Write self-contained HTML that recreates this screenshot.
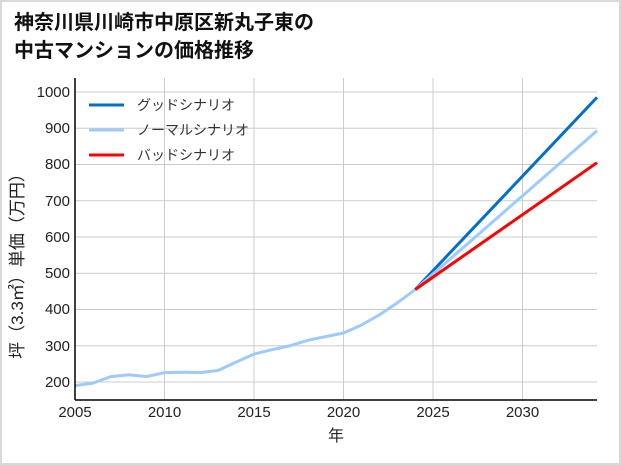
<!DOCTYPE html><html><head><meta charset="utf-8"><style>body{margin:0;background:#fff}svg{display:block}text{font-family:"Liberation Sans","Noto Sans CJK JP",sans-serif}</style></head><body>
<svg width="621" height="465" viewBox="0 0 621 465">
<rect x="1" y="1" width="619" height="463" fill="#fff" stroke="#d9d9d9" stroke-width="2"/>
<text x="14" y="29" font-size="20" font-weight="bold" fill="#111">神奈川県川崎市中原区新丸子東の</text>
<text x="14" y="57" font-size="20" font-weight="bold" fill="#111">中古マンションの価格推移</text>
<g stroke="#cccccc" stroke-width="1">
<line x1="164.5" y1="78" x2="164.5" y2="400"/><line x1="254" y1="78" x2="254" y2="400"/><line x1="343.5" y1="78" x2="343.5" y2="400"/><line x1="433" y1="78" x2="433" y2="400"/><line x1="522.5" y1="78" x2="522.5" y2="400"/>
<line x1="75" y1="92" x2="597" y2="92"/><line x1="75" y1="128.25" x2="597" y2="128.25"/><line x1="75" y1="164.5" x2="597" y2="164.5"/><line x1="75" y1="200.75" x2="597" y2="200.75"/><line x1="75" y1="237" x2="597" y2="237"/><line x1="75" y1="273.25" x2="597" y2="273.25"/><line x1="75" y1="309.5" x2="597" y2="309.5"/><line x1="75" y1="345.75" x2="597" y2="345.75"/><line x1="75" y1="382" x2="597" y2="382"/>
</g>
<g fill="none" stroke-width="3">
<polyline stroke="#0070c9" points="415.1,289.6 597,97.4"/>
<polyline stroke="#9dcbff" points="415.1,289.6 597,130.8"/>
<polyline stroke="#ff0000" points="415.1,289.6 597,162.7"/>
<polyline stroke="#9dcbff" points="75,385.6 92.9,383.1 110.8,376.6 128.7,374.75 146.6,376.6 164.5,372.6 182.4,372.2 200.3,372.6 218.2,370.4 236.1,362.1 254,354.1 271.9,349.7 289.8,345.75 307.7,340.3 325.6,336.6 343.5,333 361.4,325 379.3,314.9 397.2,302.9 415.1,289.6"/>
</g>
<line x1="75" y1="78" x2="75" y2="400" stroke="#000" stroke-width="1.5"/>
<line x1="75" y1="400" x2="597" y2="400" stroke="#000" stroke-width="1.5"/>
<g font-size="15" fill="#222" text-anchor="end">
<text x="70" y="97">1000</text><text x="70" y="133">900</text><text x="70" y="169">800</text><text x="70" y="206">700</text><text x="70" y="242">600</text><text x="70" y="278">500</text><text x="70" y="314">400</text><text x="70" y="351">300</text><text x="70" y="387">200</text>
</g>
<g font-size="15" fill="#222" text-anchor="middle">
<text x="75" y="417">2005</text><text x="164.5" y="417">2010</text><text x="254" y="417">2015</text><text x="343.5" y="417">2020</text><text x="433" y="417">2025</text><text x="522.5" y="417">2030</text>
<text x="336" y="441" font-size="16">年</text>
</g>
<text transform="translate(23,262) rotate(-90)" font-size="17" fill="#222" text-anchor="middle">坪（3.3㎡）単価（万円）</text>
<g stroke-width="3">
<line x1="89" y1="105" x2="124" y2="105" stroke="#0070c9"/>
<line x1="89" y1="130" x2="124" y2="130" stroke="#9dcbff"/>
<line x1="89" y1="155" x2="124" y2="155" stroke="#ff0000"/>
</g>
<g font-size="14" fill="#333">
<text x="137" y="110">グッドシナリオ</text><text x="137" y="135">ノーマルシナリオ</text><text x="137" y="160">バッドシナリオ</text>
</g>
</svg></body></html>
